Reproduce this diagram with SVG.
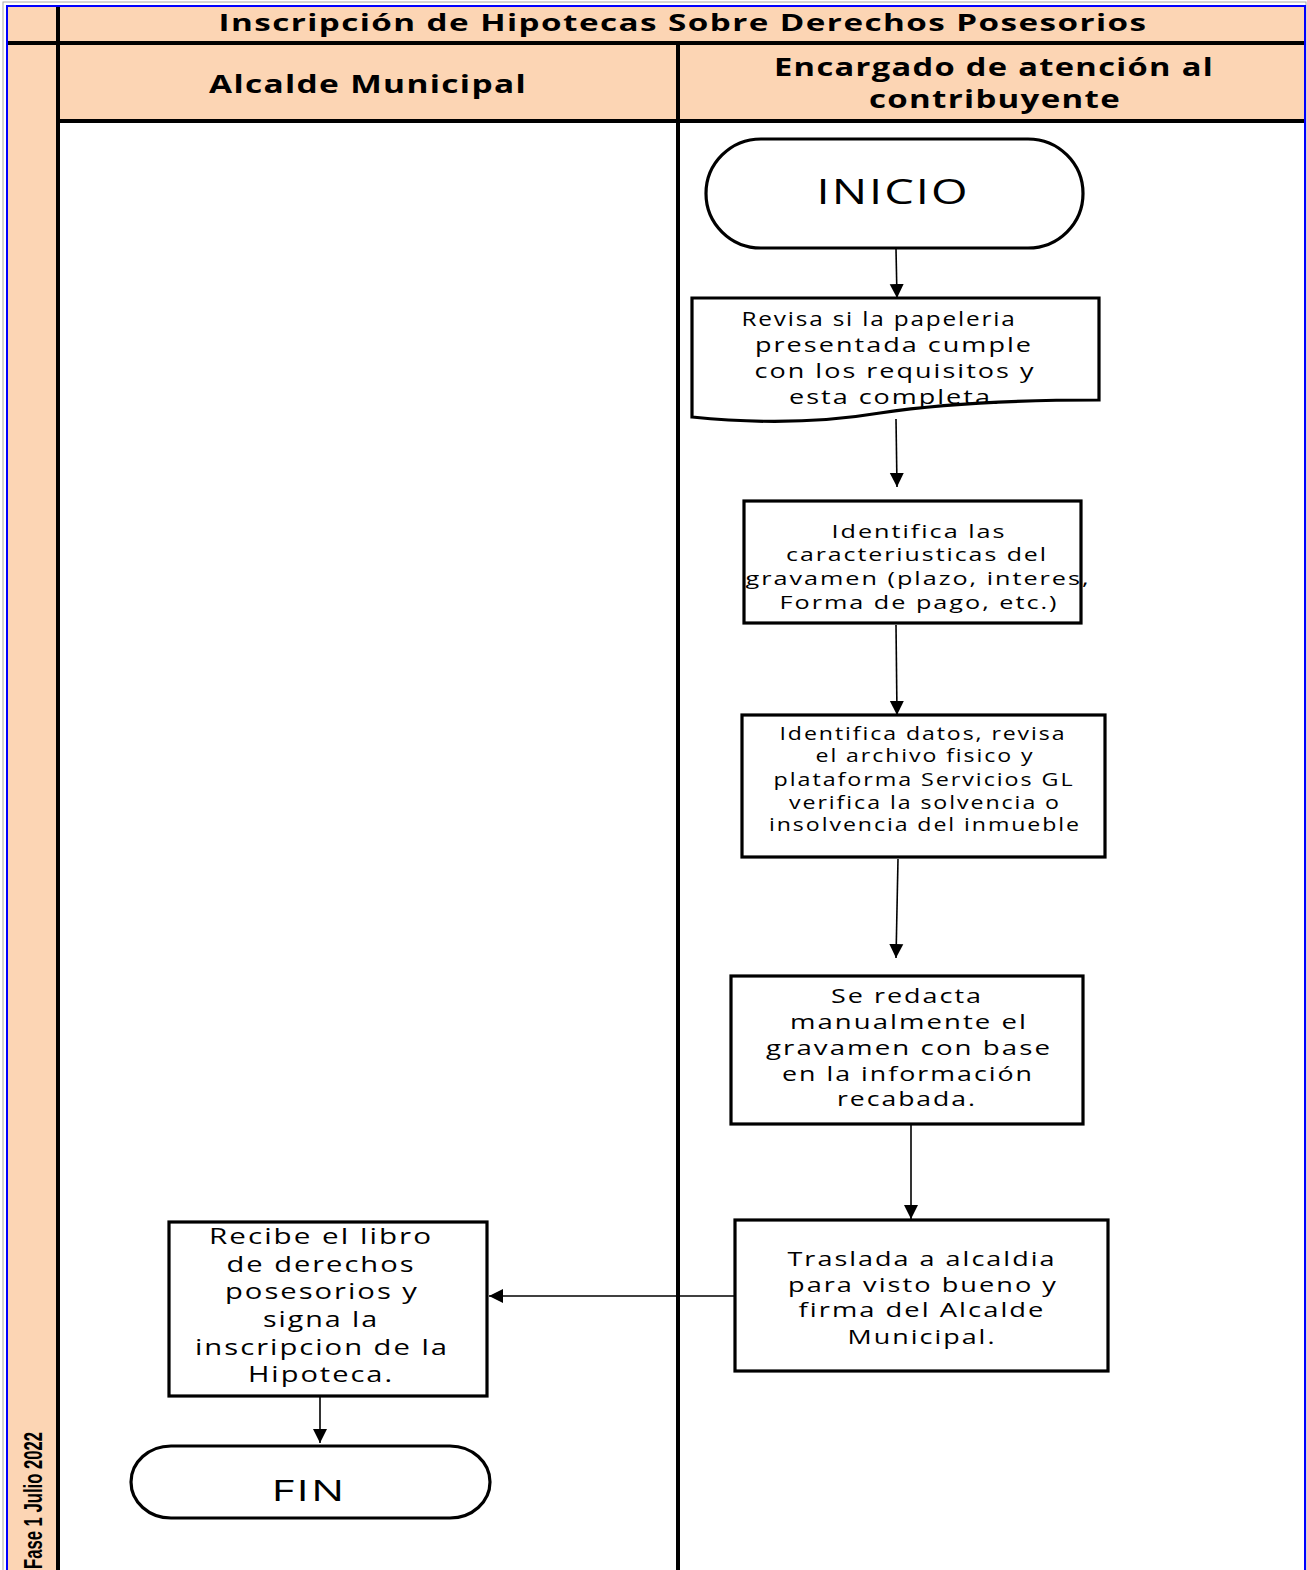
<svg xmlns="http://www.w3.org/2000/svg" width="1307" height="1570" viewBox="0 0 1307 1570">
<style>
.t{font-family:"Open Sans","DejaVu Sans",sans-serif;fill:#000;dominant-baseline:central;text-anchor:middle;letter-spacing:1.5px}
.h{font-weight:bold;letter-spacing:1px}
.n{fill:#fff;stroke:#000;stroke-width:3.2}
.c{fill:none;stroke:#000;stroke-width:1.6}
.b{stroke:#000;stroke-width:4}
</style>
<defs>
<marker id="ah" markerWidth="16" markerHeight="16" refX="14" refY="8" orient="auto" markerUnits="userSpaceOnUse" viewBox="0 0 16 16">
<path d="M0,1 L14,8 L0,15 Z" fill="#000"/>
</marker>
</defs>
<rect x="0" y="0" width="1307" height="1570" fill="#fff"/>
<g id="frame">
<rect x="3" y="2" width="1303" height="1575" fill="none" stroke="#aaa" stroke-width="1"/>
<rect x="8" y="6" width="1297" height="37" fill="#FCD5B4"/>
<rect x="8" y="43" width="50" height="1530" fill="#FCD5B4"/>
<rect x="58" y="43" width="1247" height="78" fill="#FCD5B4"/>
<line class="b" x1="8" y1="43" x2="1305" y2="43"/>
<line class="b" x1="58" y1="121" x2="1305" y2="121"/>
<line class="b" x1="58" y1="6" x2="58" y2="1570"/>
<line class="b" x1="678" y1="43" x2="678" y2="1570"/>
<rect x="7" y="6" width="1298" height="1570" fill="none" stroke="#0000ff" stroke-width="2"/>
<text class="t h" x="683" y="22" font-size="23" textLength="929" lengthAdjust="spacingAndGlyphs">Inscripción de Hipotecas Sobre Derechos Posesorios</text>
<text class="t h" x="368" y="83" font-size="25" textLength="318" lengthAdjust="spacingAndGlyphs">Alcalde Municipal</text>
<text class="t h" x="994" y="66" font-size="25" textLength="440" lengthAdjust="spacingAndGlyphs">Encargado de atención al</text>
<text class="t h" x="995" y="98" font-size="25" textLength="252" lengthAdjust="spacingAndGlyphs">contribuyente</text>
<text class="t h" transform="translate(33,1569) rotate(-90)" x="0" y="0" font-size="26" style="text-anchor:start;letter-spacing:0;font-family:'Liberation Sans',Arial,sans-serif" textLength="137" lengthAdjust="spacingAndGlyphs">Fase 1 Julio 2022</text>
</g>
<g id="connectors">
<line class="c" x1="896" y1="249" x2="897" y2="298" marker-end="url(#ah)"/>
<line class="c" x1="896" y1="419" x2="897" y2="487" marker-end="url(#ah)"/>
<line class="c" x1="896" y1="625" x2="897" y2="715" marker-end="url(#ah)"/>
<line class="c" x1="898" y1="859" x2="896" y2="958" marker-end="url(#ah)"/>
<line class="c" x1="911" y1="1125" x2="911" y2="1219" marker-end="url(#ah)"/>
<line class="c" x1="735" y1="1296" x2="489" y2="1296" marker-end="url(#ah)"/>
<line class="c" x1="320" y1="1397" x2="320" y2="1443" marker-end="url(#ah)"/>
</g>
<g id="inicio">
<rect class="n" x="706" y="139" width="377" height="109" rx="55" ry="55"/>
<text class="t" x="893" y="190" font-size="35" textLength="153" lengthAdjust="spacingAndGlyphs">INICIO</text>
</g>
<g id="revisa">
<path class="n" d="M692,298 H1099 V400 C1020,400 940,404 880,413 C820,423 760,424 692,417 Z"/>
<text class="t" x="879" y="318" font-size="20" textLength="275" lengthAdjust="spacingAndGlyphs">Revisa si la papeleria</text>
<text class="t" x="894" y="344" font-size="20" textLength="278" lengthAdjust="spacingAndGlyphs">presentada cumple</text>
<text class="t" x="895" y="370" font-size="20" textLength="281" lengthAdjust="spacingAndGlyphs">con los requisitos y</text>
<text class="t" x="895" y="396" font-size="20" textLength="212" lengthAdjust="spacingAndGlyphs">esta completa.</text>
</g>
<g id="identifica-caracteristicas">
<rect class="n" x="744" y="501" width="337" height="122"/>
<text class="t" x="919" y="531" font-size="19" textLength="175" lengthAdjust="spacingAndGlyphs">Identifica las</text>
<text class="t" x="917" y="554" font-size="19" textLength="262" lengthAdjust="spacingAndGlyphs">caracteriusticas del</text>
<text class="t" x="918" y="578" font-size="19" textLength="345" lengthAdjust="spacingAndGlyphs">gravamen (plazo, interes,</text>
<text class="t" x="919" y="602" font-size="19" textLength="279" lengthAdjust="spacingAndGlyphs">Forma de pago, etc.)</text>
</g>
<g id="identifica-datos">
<rect class="n" x="742" y="715" width="363" height="142"/>
<text class="t" x="923" y="733" font-size="18" textLength="287" lengthAdjust="spacingAndGlyphs">Identifica datos, revisa</text>
<text class="t" x="925" y="755" font-size="18" textLength="219" lengthAdjust="spacingAndGlyphs">el archivo fisico y</text>
<text class="t" x="924" y="779" font-size="18" textLength="301" lengthAdjust="spacingAndGlyphs">plataforma Servicios GL</text>
<text class="t" x="925" y="802" font-size="18" textLength="272" lengthAdjust="spacingAndGlyphs">verifica la solvencia o</text>
<text class="t" x="925" y="824" font-size="18" textLength="312" lengthAdjust="spacingAndGlyphs">insolvencia del inmueble</text>
</g>
<g id="redacta">
<rect class="n" x="731" y="976" width="352" height="148"/>
<text class="t" x="907" y="995" font-size="20" textLength="152" lengthAdjust="spacingAndGlyphs">Se redacta</text>
<text class="t" x="909" y="1021" font-size="20" textLength="238" lengthAdjust="spacingAndGlyphs">manualmente el</text>
<text class="t" x="909" y="1047" font-size="20" textLength="286" lengthAdjust="spacingAndGlyphs">gravamen con base</text>
<text class="t" x="908" y="1073" font-size="20" textLength="252" lengthAdjust="spacingAndGlyphs">en la información</text>
<text class="t" x="907" y="1098" font-size="20" textLength="140" lengthAdjust="spacingAndGlyphs">recabada.</text>
</g>
<g id="traslada">
<rect class="n" x="735" y="1220" width="373" height="151"/>
<text class="t" x="922" y="1258" font-size="20" textLength="269" lengthAdjust="spacingAndGlyphs">Traslada a alcaldia</text>
<text class="t" x="923" y="1284" font-size="20" textLength="270" lengthAdjust="spacingAndGlyphs">para visto bueno y</text>
<text class="t" x="922" y="1309" font-size="20" textLength="247" lengthAdjust="spacingAndGlyphs">firma del Alcalde</text>
<text class="t" x="922" y="1336" font-size="20" textLength="149" lengthAdjust="spacingAndGlyphs">Municipal.</text>
</g>
<g id="recibe">
<rect class="n" x="169" y="1222" width="318" height="174"/>
<text class="t" x="321" y="1235" font-size="22" textLength="224" lengthAdjust="spacingAndGlyphs">Recibe el libro</text>
<text class="t" x="321" y="1263" font-size="22" textLength="189" lengthAdjust="spacingAndGlyphs">de derechos</text>
<text class="t" x="322" y="1290" font-size="22" textLength="194" lengthAdjust="spacingAndGlyphs">posesorios y</text>
<text class="t" x="321" y="1318" font-size="22" textLength="116" lengthAdjust="spacingAndGlyphs">signa la</text>
<text class="t" x="322" y="1346" font-size="22" textLength="254" lengthAdjust="spacingAndGlyphs">inscripcion de la</text>
<text class="t" x="321" y="1373" font-size="22" textLength="146" lengthAdjust="spacingAndGlyphs">Hipoteca.</text>
</g>
<g id="fin">
<rect class="n" x="131" y="1446" width="359" height="72" rx="40" ry="36"/>
<text class="t" x="309" y="1489" font-size="30" textLength="75" lengthAdjust="spacingAndGlyphs">FIN</text>
</g>
</svg>
